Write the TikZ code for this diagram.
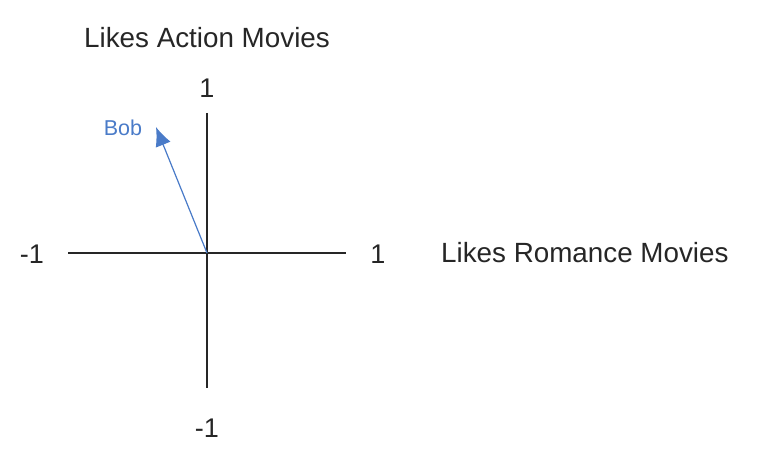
\documentclass[tikz,border=0pt]{standalone}
\usepackage{fontspec}
\setmainfont{Liberation Sans}
\usetikzlibrary{arrows.meta}
\definecolor{bobblue}{HTML}{4A7BC8}
\tikzset{
  axis/.style={line width=1.6pt,draw=black!85},
  ticklabel/.style={font=\fontsize{27}{30}\selectfont,text=black!85,inner sep=0pt},
  axislabel/.style={font=\fontsize{27.8}{30}\selectfont,text=black!85,inner sep=0pt},
  vec/.style={-{Latex[length=19pt,width=16pt]},line width=1.2pt,draw=bobblue,fill=bobblue}
}
\begin{document}
\begin{tikzpicture}[x=1pt,y=-1pt]
    \useasboundingbox (0,0) rectangle (757,457);
    % axes
    \coordinate (o) at (207,253);
    \coordinate (xl) at (68,253);
    \coordinate (xr) at (346,253);
    \coordinate (yt) at (207,113);
    \coordinate (yb) at (207,388);
    \draw[axis] (xl)--(xr);
    \draw[axis] (yt)--(yb);
    \node[ticklabel] (xmin) at (32,254) {-1};
    \node[ticklabel] (xmax) at (378,254) {1};
    \node[ticklabel] (ymax) at (207,88) {1};
    \node[ticklabel] (ymin) at (207,428) {-1};
    \node[axislabel,anchor=west] (romance) at (441,253) {Likes Romance Movies};
    \node[axislabel] (action) at (207,38) {Likes Action Movies};
    % vector
    \coordinate (bobtip) at (156,127);
    \draw[vec] (o)--(bobtip);
    \node[font=\fontsize{21.5}{24}\selectfont,text=bobblue,inner sep=0pt] (bob) at (123,128) {Bob};
\end{tikzpicture}
\end{document}
